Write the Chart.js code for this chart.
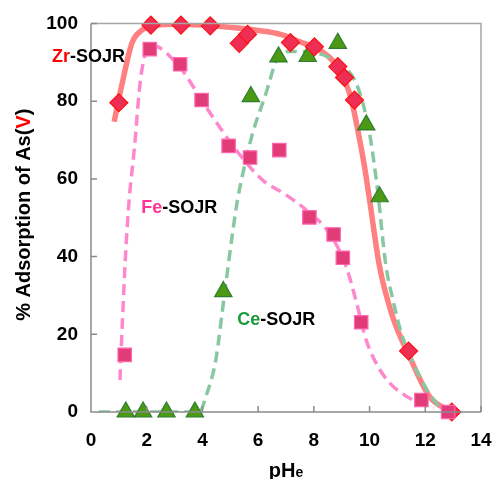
<!DOCTYPE html>
<html>
<head>
<meta charset="utf-8">
<script src="https://cdn.jsdelivr.net/npm/chart.js@4.4.0/dist/chart.umd.min.js"></script>
<style>
  html, body { margin: 0; padding: 0; background: #fff; }
</style>
</head>
<body>
<canvas id="chart" width="496" height="479"></canvas>
<script>
// measured points: equilibrium pH vs % adsorption
const zrPH  = [1.0, 2.15, 3.23, 4.28, 5.32, 5.62, 7.16, 8.02, 8.86, 9.10, 9.46, 11.40, 12.95];
const zrAds = [79.6, 99.6, 99.6, 99.4, 94.9, 97.2, 95.1, 94.0, 88.9, 86.1, 80.3, 15.7, 0];

const fePH  = [1.21, 2.11, 3.20, 3.97, 4.94, 5.71, 6.76, 7.84, 8.71, 9.04, 9.70, 11.86, 12.82];
const feAds = [14.7, 93.4, 89.5, 80.3, 68.5, 65.5, 67.4, 50.1, 45.7, 39.7, 23.1, 3.1, 0];

const cePH  = [1.25, 1.87, 2.71, 3.73, 4.75, 5.74, 6.73, 7.78, 8.86, 9.88, 10.36];
const ceAds = [0, 0, 0, 0, 31.0, 81.2, 91.4, 91.5, 94.9, 73.9, 55.4];

// trend lines as drawn in the figure
const zrFitPH  = [0.83, 1.12, 1.47, 1.83, 2.3, 3, 4, 5, 6, 6.8, 7.5, 8.2, 8.75, 9.15, 9.35, 9.6, 9.82, 10, 10.36, 10.83, 11.44, 12.16, 12.95];
const zrFitAds = [74.7, 84.6, 95, 98.3, 99.5, 99.8, 99.6, 99, 98.2, 97.2, 95.3, 93.2, 89.8, 84.6, 80.3, 71.7, 63.1, 54.6, 37.4, 24.5, 14.2, 3.9, 0];

const feFitPH  = [1.04, 1.13, 1.25, 1.37, 1.55, 1.79, 2.15, 3.17, 4.12, 5.3, 6.16, 7.0, 7.72, 8.56, 9.16, 9.5, 9.88, 10.24, 10.72, 11.55, 12.3];
const feFitAds = [8.2, 23.7, 41.7, 54.6, 67.4, 86.3, 94.5, 88.9, 78.6, 66.6, 59.7, 55.9, 52, 46, 37.4, 29, 18.5, 12.5, 7.5, 3.1, 1];

const ceFitPH  = [0.29, 3.9, 4.12, 4.48, 4.78, 5.08, 5.26, 5.44, 5.8, 6.28, 6.64, 6.9, 7.72, 8.92, 9.46, 9.76, 10.0, 10.18, 10.3, 10.58, 10.84, 11.14, 11.8, 12.4, 12.76];
const ceFitAds = [0, 0, 3.9, 13.4, 29.7, 46, 54.6, 61, 71.7, 82, 90.2, 92.8, 92.7, 89.7, 85.5, 79.5, 71.7, 63.1, 56.3, 38, 28.8, 20.3, 9.1, 2.2, 0];

const xTicks = [0, 2, 4, 6, 8, 10, 12, 14];
const yTicks = [0, 20, 40, 60, 80, 100];

const FONT = 'Arial, "Liberation Sans", sans-serif';
Chart.defaults.font.family = FONT;

const pts = (xs, ys) => xs.map((x, i) => ({ x: x, y: ys[i] }));

// inward tick marks, frame and the text labels
const decor = {
  id: 'decor',
  afterDraw(chart) {
    const { ctx, chartArea: a, scales: { x, y } } = chart;
    ctx.save();
    // frame
    ctx.lineWidth = 1.5;
    ctx.strokeStyle = '#a6a6a6';
    ctx.beginPath();
    ctx.moveTo(a.left, a.top); ctx.lineTo(a.right, a.top); ctx.lineTo(a.right, a.bottom);
    ctx.stroke();
    ctx.strokeStyle = '#8a8a8a';
    ctx.beginPath();
    ctx.moveTo(a.left, a.top); ctx.lineTo(a.left, a.bottom); ctx.lineTo(a.right, a.bottom);
    xTicks.forEach(v => { const px = x.getPixelForValue(v); ctx.moveTo(px, a.bottom); ctx.lineTo(px, a.bottom - 6); });
    yTicks.forEach(v => { const py = y.getPixelForValue(v); ctx.moveTo(a.left, py); ctx.lineTo(a.left + 6, py); });
    ctx.stroke();

    // series names
    const label = (px, py, head, color) => {
      ctx.font = 'bold 18px ' + FONT;
      ctx.textBaseline = 'middle';
      ctx.textAlign = 'left';
      ctx.fillStyle = color;
      ctx.fillText(head, px, py);
      const w = ctx.measureText(head).width;
      ctx.fillStyle = '#000';
      ctx.fillText('-SOJR', px + w, py);
    };
    label(x.getPixelForValue(-1.4), y.getPixelForValue(91.4), 'Zr', '#ff0000');
    label(x.getPixelForValue(1.8), y.getPixelForValue(52.5), 'Fe', '#ff3399');
    label(x.getPixelForValue(5.25), y.getPixelForValue(23.7), 'Ce', '#1a9a3a');

    // y axis title
    ctx.font = 'bold 20px ' + FONT;
    const parts = [['% Adsorption of As(', '#000'], ['V', '#ff0000'], [')', '#000']];
    const total = parts.reduce((s, p) => s + ctx.measureText(p[0]).width, 0);
    ctx.translate(24, (a.top + a.bottom) / 2 - 3);
    ctx.rotate(-Math.PI / 2);
    ctx.textBaseline = 'middle';
    let cx = -total / 2;
    parts.forEach(p => { ctx.fillStyle = p[1]; ctx.fillText(p[0], cx, 0); cx += ctx.measureText(p[0]).width; });
    ctx.setTransform(1, 0, 0, 1, 0, 0);

    // x axis title: pH with small e
    ctx.textBaseline = 'alphabetic';
    ctx.fillStyle = '#000';
    ctx.font = 'bold 20px ' + FONT;
    const w1 = ctx.measureText('pH').width;
    ctx.font = 'bold 14px ' + FONT;
    const w2 = ctx.measureText('e').width;
    const sx = (a.left + a.right) / 2 - (w1 + w2) / 2;
    ctx.font = 'bold 20px ' + FONT;
    ctx.fillText('pH', sx, 477);
    ctx.font = 'bold 14px ' + FONT;
    ctx.fillText('e', sx + w1, 477);
    ctx.restore();
  }
};

const marker = (label, xs, ys, style, radius, fill, border, order) => ({
  label: label,
  data: pts(xs, ys),
  showLine: false,
  pointStyle: style,
  pointRadius: radius,
  pointHoverRadius: radius,
  pointBackgroundColor: fill,
  pointBorderColor: border,
  pointBorderWidth: 1.2,
  clip: false,
  order: order
});

const curve = (xs, ys, color, width, dash, order) => ({
  data: pts(xs, ys),
  showLine: true,
  borderColor: color,
  borderWidth: width,
  borderDash: dash,
  pointRadius: 0,
  cubicInterpolationMode: 'monotone',
  fill: false,
  order: order
});

new Chart(document.getElementById('chart'), {
  type: 'scatter',
  data: {
    datasets: [
      marker('Fe-SOJR', fePH, feAds, 'rect', 9.5, '#e23c78', '#ff66b0', 0),
      marker('Zr-SOJR', zrPH, zrAds, 'rectRot', 9, '#ee2e55', '#ff1010', 1),
      marker('Ce-SOJR', cePH, ceAds, 'triangle', 10, '#4c9a14', '#2e7d32', 2),
      curve(feFitPH, feFitAds, '#ff88cc', 3.5, [11, 6], 3),
      curve(ceFitPH, ceFitAds, '#88c8a0', 3.5, [11, 6], 4),
      curve(zrFitPH, zrFitAds, '#ff8080', 5.5, [], 5)
    ]
  },
  options: {
    responsive: false,
    animation: false,
    layout: { padding: { left: 0, top: 23.5, right: 15, bottom: 0 } },
    plugins: { legend: { display: false }, tooltip: { enabled: false } },
    scales: {
      x: {
        type: 'linear',
        min: 0, max: 14,
        afterBuildTicks: s => { s.ticks = xTicks.map(v => ({ value: v })); },
        afterFit: s => { s.height = 67; s.paddingLeft = 0; s.paddingRight = 0; },
        grid: { display: false, drawTicks: false },
        border: { display: false },
        ticks: { color: '#000', font: { size: 19, weight: 'bold' }, padding: 17, maxRotation: 0 }
      },
      y: {
        type: 'linear',
        min: 0, max: 100,
        afterBuildTicks: s => { s.ticks = yTicks.map(v => ({ value: v })); },
        afterFit: s => { s.width = 91; s.paddingTop = 0; s.paddingBottom = 0; },
        grid: { display: false, drawTicks: false },
        border: { display: false },
        ticks: { color: '#000', font: { size: 19, weight: 'bold' }, padding: 13 }
      }
    }
  },
  plugins: [decor]
});
</script>
</body>
</html>
